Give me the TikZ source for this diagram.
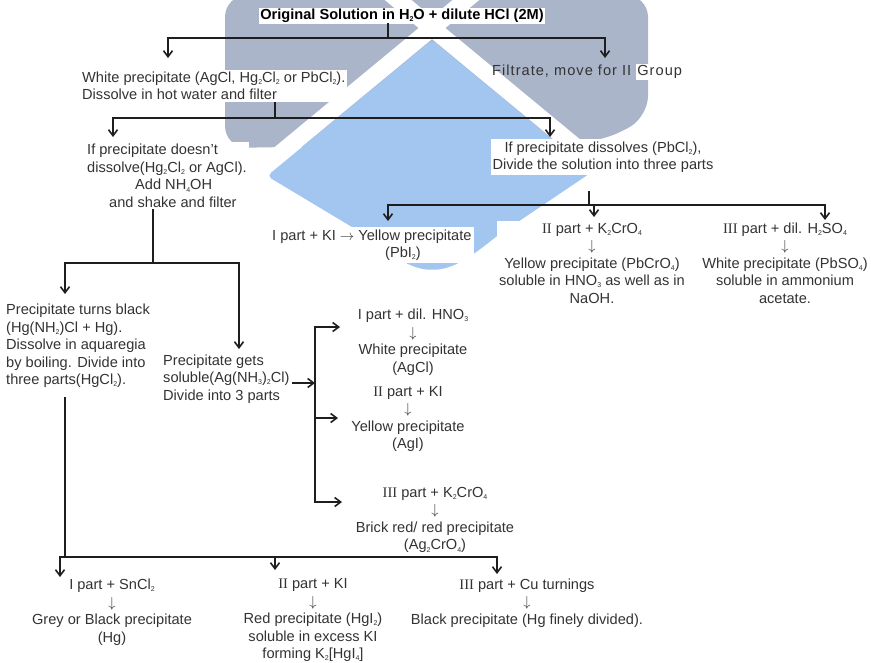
\documentclass[tikz,border=0pt]{standalone}
\usepackage{fontspec}
\setmainfont{Liberation Sans}
\newfontfamily\romfont{Liberation Serif}
\newfontfamily\widefont[LetterSpace=7]{Liberation Sans}
\usetikzlibrary{arrows.meta,calc}
\newcommand{\ssb}[1]{\raisebox{-2.2pt}{\fontsize{7}{7}\selectfont #1}}
\newcommand{\RN}[1]{{\romfont #1}}
\definecolor{wmgrey}{HTML}{ABB5CA}
\definecolor{wmblue}{HTML}{A3C6F1}
\definecolor{txt}{HTML}{333333}
\definecolor{ln}{HTML}{1E1E1E}
\begin{document}
\begin{tikzpicture}[x=1pt,y=-1pt,
  every node/.style={font=\fontsize{14.6}{17.5}\selectfont, text=txt, inner sep=2pt},
  lbl/.style={fill=white, align=center},
  lbll/.style={fill=white, align=left},
  conn/.style={draw=ln, line width=1.6pt, line cap=rect},
  arr/.style={draw=ln, line width=1.6pt, -{Straight Barb[length=6pt,width=9pt]}}]
\useasboundingbox (0,0) rectangle (871,662);
% watermark
\begin{scope}
\clip (0,0) rectangle (871,662);
\fill[wmgrey, rounded corners=22pt] (225,-5) -- (648,-5) -- (648,118) -- (600,142) -- (225,148) -- cycle;
\draw[white, line width=17pt] (478,-10) -- (201,219);
\draw[white, line width=17pt] (386,-10) -- (663,219);
\fill[wmblue, rounded corners=5pt] (432,40) -- (267,176) -- (367,236) .. controls (392,256) and (410,268) .. (432,270) .. controls (455,268) and (472,256) .. (497,236) -- (592,172) -- cycle;
\end{scope}
% nodes
\node[lbl, font=\bfseries\fontsize{14.6}{17.5}\selectfont, text=black, inner sep=1pt] (t) at (402,16) {Original Solution in H\ssb{2}O + dilute HCl (2M)};
\node[lbll, anchor=west] (wp) at (80,86) {White precipitate (AgCl, Hg\ssb{2}Cl\ssb{2} or PbCl\ssb{2}).\\Dissolve in hot water and filter};
\node[anchor=west, inner sep=0pt] (fil) at (492,72) {\widefont Filtrate, move for II {\fboxsep=1pt\colorbox{white}{Group}}};
\node[lbll, anchor=west] (nd) at (85,176) {If precipitate doesn't\\dissolve(Hg\ssb{2}Cl\ssb{2} or AgCl).\\\hspace*{48pt}Add NH\ssb{4}OH\\\hspace*{22pt}and shake and filter};
\node[lbl] (dis) at (603,157) {If precipitate dissolves (PbCl\ssb{2}),\\Divide the solution into three parts};
\node[lbll, anchor=west] (pbi) at (270,245) {I part + KI $\rightarrow$ Yellow precipitate\\\hspace*{113pt}(PbI\ssb{2})};
\node[lbl] (kcr) at (592,263) {\RN{II} part + K\ssb{2}CrO\ssb{4}\\$\downarrow$\\Yellow precipitate (PbCrO\ssb{4})\\soluble in HNO\ssb{3} as well as in\\NaOH.};
\node[lbl] (hso) at (785,263) {\RN{III} part + dil. H\ssb{2}SO\ssb{4}\\$\downarrow$\\White precipitate (PbSO\ssb{4})\\soluble in ammonium\\acetate.};
\node[lbll, anchor=west] (blk) at (4,346) {Precipitate turns black\\(Hg(NH\ssb{2})Cl + Hg).\\Dissolve in aquaregia\\by boiling. Divide into\\three parts(HgCl\ssb{2}).};
\node[lbll, anchor=west] (sol) at (161,379) {Precipitate gets\\soluble(Ag(NH\ssb{3})\ssb{2}Cl)\\Divide into 3 parts};
\node[lbl] (hno) at (413,342) {I part + dil. HNO\ssb{3}\\$\downarrow$\\White precipitate\\(AgCl)};
\node[lbl] (aki) at (408,419) {\RN{II} part + KI\\$\downarrow$\\Yellow precipitate\\(AgI)};
\node[lbl] (agc) at (435,520) {\RN{III} part + K\ssb{2}CrO\ssb{4}\\$\downarrow$\\Brick red/ red precipitate\\(Ag\ssb{2}CrO\ssb{4})};
\node[lbl] (snc) at (112,612) {I part + SnCl\ssb{2}\\$\downarrow$\\Grey or Black precipitate\\(Hg)};
\node[lbl] (hgi) at (313,620) {\RN{II} part + KI\\$\downarrow$\\Red precipitate (HgI\ssb{2})\\soluble in excess KI\\forming K\ssb{2}[HgI\ssb{4}]};
\node[lbl] (cut) at (527,603) {\RN{III} part + Cu turnings\\$\downarrow$\\Black precipitate (Hg finely divided).};
% junction coordinates
\coordinate (j0) at (388,38);
\coordinate (wpA) at (168,58);
\coordinate (filA) at (605,58);
\coordinate (j1) at (275,118);
\coordinate (ndA) at (113,137);
\coordinate (disA) at (550,137);
\coordinate (j2t) at (589,192);
\coordinate (j2) at (589,205);
\coordinate (j2b) at (594,205);
\coordinate (pbiA) at (388,221);
\coordinate (kcrA) at (594,217);
\coordinate (hsoA) at (825,220);
\coordinate (j3) at (153,263);
\coordinate (blkA) at (65,294);
\coordinate (solA) at (239,349);
\coordinate (s1) at (292,383);
\coordinate (s2) at (315,383);
\coordinate (v1) at (315,327);
\coordinate (v2) at (315,418);
\coordinate (v3) at (315,502);
\coordinate (hnoA) at (340,327);
\coordinate (akiA) at (338,418);
\coordinate (agcA) at (342,502);
\coordinate (j4t) at (65,398);
\coordinate (j4) at (65,557);
\coordinate (j4m) at (275,557);
\coordinate (sncA) at (60,577);
\coordinate (hgiA) at (275,570);
\coordinate (cutA) at (497,574);
% connectors
\draw[conn] (j0 |- t.south) -- (j0);
\draw[arr] (j0) -| (wpA);
\draw[arr] (j0) -| (filA);
\draw[conn] (j1 |- wp.south) -- (j1);
\draw[arr] (j1) -| (ndA);
\draw[arr] (j1) -| (disA);
\draw[conn] (j2t) -- (j2);
\draw[arr] (j2) -| (pbiA);
\draw[arr] (j2) -| (hsoA);
\draw[arr] (j2b) -- (kcrA);
\draw[conn] (j3 |- nd.south) -- (j3);
\draw[arr] (j3) -| (blkA);
\draw[arr] (j3) -| (solA);
\draw[arr] (s1) -- (s2);
\draw[conn] (v1) -- (v3);
\draw[arr] (v1) -- (hnoA);
\draw[arr] (v2) -- (akiA);
\draw[arr] (v3) -- (agcA);
\draw[conn] (j4t) -- (j4);
\draw[arr] (j4) -| (sncA);
\draw[arr] (j4) -| (cutA);
\draw[arr] (j4m) -- (hgiA);
\end{tikzpicture}
\end{document}
